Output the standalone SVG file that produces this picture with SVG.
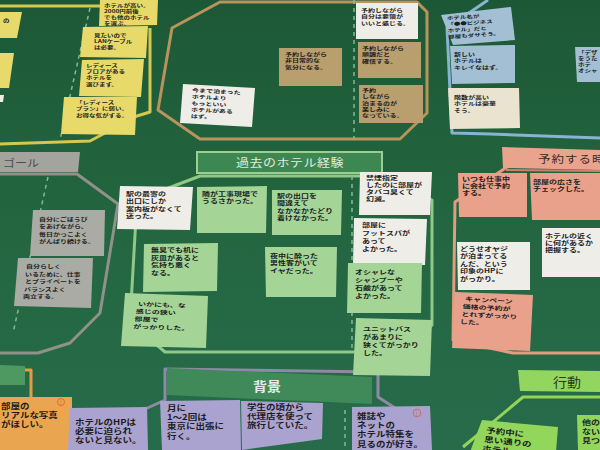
<svg xmlns="http://www.w3.org/2000/svg" width="600" height="450" viewBox="0 0 600 450">
<defs>
<linearGradient id="bgG" x1="0" y1="0" x2="0" y2="1">
<stop offset="0" stop-color="#1d5836"/>
<stop offset="0.5" stop-color="#236640"/>
<stop offset="1" stop-color="#286b4b"/>
</linearGradient>
<style>
.n{font-family:"Noto Sans CJK JP","Noto Sans",sans-serif;font-weight:bold;fill:#1c1c1c}
.s65{font-size:6.5px}.s7{font-size:7px}.s8{font-size:8px}.s95{font-size:9.5px}
.y{fill:#e7d96a}.tan{fill:#b99e6e}.wh{fill:#eeede8}.bl{fill:#a2bfd4}.cr{fill:#e9e3d0}
.gr{fill:#a9aba4}.lg{fill:#a5d596}.sa{fill:#eaa18b}.pu{fill:#aaa3d0}.or{fill:#eaa551}.bgn{fill:#93d65c}
.ol{fill:none;stroke-width:3;stroke-linejoin:round}
.dash{fill:none;stroke:#86b894;stroke-width:1.5;stroke-dasharray:4 4}
.h{font-family:"Noto Sans CJK JP","Noto Sans",sans-serif}
</style>
</defs>
<rect width="600" height="450" fill="url(#bgG)"/>

<g id="connectors">
<polyline class="ol" stroke="#d6c84e" points="0,6 100,6"/>
<polyline class="ol" stroke="#d6c84e" points="150,28 150,112 137,116 90,141 0,144"/>
<line class="dash" x1="90" y1="8" x2="60" y2="140"/>
<polygon class="ol" stroke="#b8935c" points="220,2 417,2 427,12 427,113 400,139 200,139 158,110 172,28"/>
<line class="dash" x1="354" y1="0" x2="354" y2="139"/>
<polyline class="ol" stroke="#88b4d2" points="488,0 447,28 452,133 490,134 600,138"/>
<polyline class="ol" stroke="#909189" points="0,174 77,174 118,204 100,313 70,343 38,353 0,353"/>
<line class="dash" x1="48" y1="177" x2="13" y2="333"/>
<polygon class="ol" stroke="#90c887" points="200,176 380,176 432,200 432,325 400,352 165,352 130,322 137,200"/>
<line class="dash" x1="352" y1="176" x2="352" y2="352"/>
<polyline class="ol" stroke="#e39b82" points="507,167 455,202 453,340 513,353 600,353"/>
<polyline class="ol" stroke="#8e8aa6" points="143,410 165,400 165,369 378,372 378,397 395,408"/>
<line class="dash" x1="345" y1="410" x2="345" y2="448"/>
<polyline class="ol" stroke="#92d456" points="600,397 523,397 463,447"/>
<polyline class="ol" stroke="#e39c42" points="25,370 31,370 31,398"/>
</g>

<g id="label-goal">
<polygon points="0,152 80,152 78,172 0,172" fill="#a3a49e"/>
<text class="h" transform="translate(3,167) scale(1,.85)" font-size="12" fill="#4d4d4a">ゴール</text>
</g>
<g id="label-past">
<rect x="197" y="152" width="185" height="21" fill="#3d8753" stroke="#9ccf8f" stroke-width="2"/>
<text class="h" transform="translate(290,167) scale(1,.85)" font-size="13" fill="#e4ecdf" text-anchor="middle" letter-spacing="0.5">過去のホテル経験</text>
</g>
<g id="label-reserve">
<polygon points="502,147 600,150 600,170 503,168" fill="#eaa38d"/>
<line x1="506" y1="170" x2="600" y2="171" stroke="#c9826e" stroke-width="2"/>
<text class="h" transform="translate(538,163) scale(1,.85)" font-size="12.5" fill="#3a2a25" letter-spacing="1">予約する時</text>
</g>
<g id="label-background">
<polygon points="167,368 372,377 372,404 167,395" fill="#3f8a58"/>
<text class="h" transform="translate(253,391) scale(1,.9)" font-size="14" fill="#e8ecef" font-weight="bold">背景</text>
</g>
<g id="label-action">
<polygon points="518,370 600,371 600,392 520,391" fill="#93d65f"/>
<text class="h" transform="translate(553,387) scale(1,.9)" font-size="14" fill="#2a3a20">行動</text>
</g>
<g id="label-green-left">
<polygon points="0,365 25,366 25,385 0,385" fill="#4e9862"/>
</g>

<!-- yellow -->
<g id="yA"><polygon class="y" points="100,0 158,0 157,25 99,26"/>
<text class="n s65" transform="translate(104,7) scale(1,.72)"><tspan x="0">ホテルが高い。</tspan><tspan x="0" dy="8.3">2000円前後</tspan><tspan x="0" dy="8.3">でも他のホテル</tspan><tspan x="0" dy="8.3">を選ぶ。</tspan></text></g>
<g id="yB"><polygon class="y" points="83,27 148,26 146,58 80,57"/>
<text class="n s65" transform="translate(94,37) scale(1,.72)"><tspan x="0">見たいので</tspan><tspan x="0" dy="8.6">LANケーブル</tspan><tspan x="0" dy="8.6">は必要。</tspan></text></g>
<g id="yC"><polygon class="y" points="82,60 144,59 141,97 79,96"/>
<text class="n s65" transform="translate(86,67) scale(1,.72)"><tspan x="0">レディース</tspan><tspan x="0" dy="8.6">フロアがある</tspan><tspan x="0" dy="8.6">ホテルを</tspan><tspan x="0" dy="8.6">選びます。</tspan></text></g>
<g id="yD"><polygon class="y" points="64,97 137,97 135,135 61,134"/>
<text class="n s65" transform="translate(76,104) scale(1,.72)"><tspan x="0">「レディース</tspan><tspan x="0" dy="9">プラン」に弱い。</tspan><tspan x="0" dy="9">お得な気がする。</tspan></text></g>
<g id="yL1"><polygon class="y" points="0,12 22,12 17,38 0,38"/>
<text class="n s65" transform="translate(3,22) scale(1,.72)">の</text></g>
<g id="yL2"><polygon class="y" points="0,53 14,53 9,88 0,88"/></g>
<g id="wL"><polygon class="wh" points="0,95 4,95 3,102 0,102"/></g>

<!-- tan -->
<g id="w1"><polygon class="wh" points="183,84 255,88 252,127 180,123"/>
<text class="n s7" transform="translate(192,92) rotate(3) scale(1,.72)"><tspan x="0">今まで泊まった</tspan><tspan x="0" dy="9">ホテルより</tspan><tspan x="0" dy="9">もっといい</tspan><tspan x="0" dy="9">ホテルがある</tspan><tspan x="0" dy="9">はず。</tspan></text></g>
<g id="t1"><polygon class="tan" points="279,48 342,48 342,86 279,86"/>
<text class="n s7" transform="translate(285,56) scale(1,.72)"><tspan x="0">予約しながら</tspan><tspan x="0" dy="9">非日常的な</tspan><tspan x="0" dy="9">気分になる。</tspan></text></g>
<g id="w2"><polygon class="wh" points="356,3 418,3 418,39 356,39"/>
<text class="n s7" transform="translate(361,12) scale(1,.72)"><tspan x="0">予約しながら</tspan><tspan x="0" dy="9">自分は要領が</tspan><tspan x="0" dy="9">いいと感じる。</tspan></text></g>
<g id="t2"><polygon class="tan" points="358,42 421,42 421,78 358,78"/>
<text class="n s7" transform="translate(362,50) scale(1,.72)"><tspan x="0">予約しながら</tspan><tspan x="0" dy="9">順調だと</tspan><tspan x="0" dy="9">確信する。</tspan></text></g>
<g id="t3"><polygon class="tan" points="359,85 423,85 423,123 359,123"/>
<text class="n s7" transform="translate(362,92) scale(1,.72)"><tspan x="0">予約</tspan><tspan x="0" dy="8.8">しながら</tspan><tspan x="0" dy="8.8">泊まるのが</tspan><tspan x="0" dy="8.8">楽しみに</tspan><tspan x="0" dy="8.8">なっている。</tspan></text></g>

<!-- blue -->
<g id="b1"><polygon class="bl" points="441,15 511,7 515,40 453,45"/>
<text class="n s65" transform="translate(447,20) rotate(-4) scale(1,.72)"><tspan x="0">ホテル名が</tspan><tspan x="0" dy="8.7">「●●ビジネス</tspan><tspan x="0" dy="8.7">ホテル」だと</tspan><tspan x="0" dy="8.7">部屋もダサそう。</tspan></text></g>
<g id="b2"><polygon class="bl" points="450,46 515,45 515,83 452,84"/>
<text class="n s7" transform="translate(454,56) scale(1,.72)"><tspan x="0">新しい</tspan><tspan x="0" dy="9">ホテルは</tspan><tspan x="0" dy="9">キレイなはず。</tspan></text></g>
<g id="c1"><polygon class="cr" points="448,88 519,88 520,128 450,129"/>
<text class="n s7" transform="translate(454,99) scale(1,.72)"><tspan x="0">階数が高い</tspan><tspan x="0" dy="9">ホテルは豪華</tspan><tspan x="0" dy="9">そう。</tspan></text></g>
<g id="b3"><polygon class="bl" points="575,47 600,47 600,82 577,82"/>
<text class="n s65" transform="translate(578,54) scale(1,.72)"><tspan x="0">「デザ</tspan><tspan x="0" dy="8.3">をうた</tspan><tspan x="0" dy="8.3">ホテ</tspan><tspan x="0" dy="8.3">オシャ</tspan></text></g>

<!-- gray -->
<g id="g1"><polygon class="gr" points="33,210 105,210 104,256 30,256"/>
<text class="n s7" transform="translate(39,221) scale(1,.72)"><tspan x="0">自分にごほうび</tspan><tspan x="0" dy="10.4">をあげながら、</tspan><tspan x="0" dy="10.4">毎日かっこよく</tspan><tspan x="0" dy="10.4">がんばり続ける。</tspan></text></g>
<g id="g2"><polygon class="gr" points="18,258 93,258 91,308 14,306"/>
<text class="n s7" transform="translate(25,268) scale(1,.72)"><tspan x="1">自分らしく</tspan><tspan x="0" dy="10.5">いるために、仕事</tspan><tspan x="0" dy="10.5">とプライベートを</tspan><tspan x="-1" dy="10.5">バランスよく</tspan><tspan x="-2" dy="10.5">両立する。</tspan></text></g>

<!-- light green -->
<g id="lw1"><polygon class="wh" points="120,186 193,187 190,230 117,229"/>
<text class="n s8" transform="translate(126,196) scale(1,.72)"><tspan x="0">駅の最寄の</tspan><tspan x="0" dy="10.2">出口にしか</tspan><tspan x="0" dy="10.2">案内板がなくて</tspan><tspan x="0" dy="10.2">迷った。</tspan></text></g>
<g id="lg1"><polygon class="lg" points="197,187 267,186 266,233 197,233"/>
<text class="n s8" transform="translate(202,196) scale(1,.72)"><tspan x="0">隣が工事現場で</tspan><tspan x="0" dy="10.2">うるさかった。</tspan></text></g>
<g id="lg2"><polygon class="lg" points="272,190 342,190 341,235 272,235"/>
<text class="n s8" transform="translate(277,198) scale(1,.72)"><tspan x="0">駅の出口を</tspan><tspan x="0" dy="10.2">間違えて</tspan><tspan x="0" dy="10.2">なかなかたどり</tspan><tspan x="0" dy="10.2">着けなかった。</tspan></text></g>
<g id="lw2"><polygon class="wh" points="360,172 432,172 430,215 359,215"/>
<text class="n s8" transform="translate(366,180) scale(1,.72)"><tspan x="0">禁煙指定</tspan><tspan x="0" dy="9.9">したのに部屋が</tspan><tspan x="0" dy="9.9">タバコ臭くて</tspan><tspan x="0" dy="9.9">幻滅。</tspan></text></g>
<g id="lw3"><polygon class="wh" points="354,218 427,219 425,265 353,264"/>
<text class="n s8" transform="translate(362,227) scale(1,.72)"><tspan x="0">部屋に</tspan><tspan x="0" dy="10.9">フットスパが</tspan><tspan x="0" dy="10.9">あって</tspan><tspan x="0" dy="10.9">よかった。</tspan></text></g>
<g id="lg3"><polygon class="lg" points="144,244 218,243 217,291 143,292"/>
<text class="n s8" transform="translate(151,252) scale(1,.72)"><tspan x="0">無臭でも机に</tspan><tspan x="0" dy="10.6">灰皿があると</tspan><tspan x="0" dy="10.6">気持ち悪く</tspan><tspan x="0" dy="10.6">なる。</tspan></text></g>
<g id="lg4"><polygon class="lg" points="265,247 337,247 336,297 266,297"/>
<text class="n s8" transform="translate(270,258) scale(1,.72)"><tspan x="0">夜中に酔った</tspan><tspan x="0" dy="10.2">男性客がいて</tspan><tspan x="0" dy="10.2">イヤだった。</tspan></text></g>
<g id="lg5"><polygon class="lg" points="348,263 422,263 421,313 347,313"/>
<text class="n s8" transform="translate(355,274) scale(1,.72)"><tspan x="0">オシャレな</tspan><tspan x="0" dy="10.9">シャンプーや</tspan><tspan x="0" dy="10.9">石鹸があって</tspan><tspan x="0" dy="10.9">よかった。</tspan></text></g>
<g id="lg6"><polygon class="lg" points="125,293 208,296 206,348 121,346"/>
<text class="n s8" transform="translate(136,306) rotate(2) scale(1,.72)"><tspan x="2">いかにも、な</tspan><tspan x="0" dy="10.5">感じの狭い</tspan><tspan x="-1" dy="10.5">部屋で</tspan><tspan x="-2" dy="10.5">がっかりした。</tspan></text></g>
<g id="lg7"><polygon class="lg" points="356,318 432,320 430,376 353,375"/>
<text class="n s8" transform="translate(363,331) scale(1,.72)"><tspan x="0">ユニットバス</tspan><tspan x="0" dy="10.9">があまりに</tspan><tspan x="0" dy="10.9">狭くてがっかり</tspan><tspan x="0" dy="10.9">した。</tspan></text></g>

<!-- salmon -->
<g id="s1"><polygon class="sa" points="458,173 527,173 527,217 459,217"/>
<text class="n s8" transform="translate(462,181) scale(1,.72)"><tspan x="0">いつも仕事中</tspan><tspan x="0" dy="9.7">に会社で予約</tspan><tspan x="0" dy="9.7">する。</tspan></text></g>
<g id="s2"><polygon class="sa" points="530,173 600,173 600,220 532,220"/>
<text class="n s8" transform="translate(533,184) scale(1,.72)"><tspan x="0">部屋の広さを</tspan><tspan x="0" dy="9.7">チェックした。</tspan></text></g>
<g id="sw1"><polygon class="wh" points="542,228 600,228 600,277 542,277"/>
<text class="n s8" transform="translate(545,238) scale(1,.72)"><tspan x="0">ホテルの近く</tspan><tspan x="0" dy="9.9">に何があるか</tspan><tspan x="0" dy="9.9">把握する。</tspan></text></g>
<g id="sw2"><polygon class="wh" points="457,242 530,242 530,290 458,290"/>
<text class="n s8" transform="translate(460,251) scale(1,.72)"><tspan x="0">どうせオヤジ</tspan><tspan x="0" dy="10.4">が泊まってる</tspan><tspan x="0" dy="10.4">んだ、という</tspan><tspan x="0" dy="10.4">印象のHPに</tspan><tspan x="0" dy="10.4">がっかり。</tspan></text></g>
<g id="s3"><polygon class="sa" points="455,292 533,295 530,351 452,348"/>
<text class="n s8" transform="translate(463,301) rotate(3) scale(1,.72)"><tspan x="2">キャンペーン</tspan><tspan x="0" dy="10.6">価格の予約が</tspan><tspan x="-1" dy="10.6">とれずがっかり</tspan><tspan x="-2" dy="10.6">した。</tspan></text></g>

<!-- bottom -->
<g id="o1"><polygon class="or" points="0,397 72,397 72,450 0,450"/>
<circle cx="61" cy="402" r="3.5" fill="none" stroke="#d4622a" stroke-width="0.8"/>
<text class="h" x="61" y="404.5" font-size="6" fill="#d4622a" text-anchor="middle">!</text>
<text class="n s95" transform="translate(1,409) scale(1,.8)"><tspan x="0">部屋の</tspan><tspan x="0" dy="11.5">リアルな写真</tspan><tspan x="0" dy="11.5">がほしい。</tspan></text></g>
<g id="p1"><polygon class="pu" points="70,408 147,407 148,450 68,450"/>
<text class="n s95" transform="translate(75,425) scale(1,.8)"><tspan x="0">ホテルのHPは</tspan><tspan x="0" dy="11.5">必要に迫られ</tspan><tspan x="0" dy="11.5">ないと見ない。</tspan></text></g>
<g id="p2"><polygon class="pu" points="160,401 240,400 241,450 162,450"/>
<text class="n s95" transform="translate(167,411) scale(1,.8)"><tspan x="0">月に</tspan><tspan x="0" dy="11.5">1～2回は</tspan><tspan x="0" dy="11.5">東京に出張に</tspan><tspan x="0" dy="11.5">行く。</tspan></text></g>
<g id="p3"><polygon class="pu" points="241,401 323,403 322,439 242,450"/>
<text class="n s95" transform="translate(247,410) scale(1,.8)"><tspan x="0">学生の頃から</tspan><tspan x="0" dy="11.5">代理店を使って</tspan><tspan x="0" dy="11.5">旅行していた。</tspan></text></g>
<g id="p4"><polygon class="pu" points="352,407 430,406 432,450 352,450"/>
<circle cx="417" cy="413" r="3.8" fill="none" stroke="#d8584a" stroke-width="0.8"/>
<text class="h" x="417" y="415.5" font-size="6" fill="#d8584a" text-anchor="middle">!</text>
<text class="n s95" transform="translate(357,419) scale(1,.8)"><tspan x="0">雑誌や</tspan><tspan x="0" dy="11.5">ネットの</tspan><tspan x="0" dy="11.5">ホテル特集を</tspan><tspan x="0" dy="11.5">見るのが好き。</tspan></text></g>
<g id="bg1"><polygon class="bgn" points="482,420 558,427 556,452 470,452"/>
<text class="n s95" transform="translate(486,433) rotate(6) scale(1,.8)"><tspan x="0">予約中に</tspan><tspan x="-1" dy="11.5">思い通りの</tspan><tspan x="-2" dy="11.5">ホテル</tspan></text></g>
<g id="bg2"><polygon class="bgn" points="577,415 600,415 600,450 578,450"/>
<text class="n" font-size="9" transform="translate(582,425) scale(1,.7)"><tspan x="0">他の</tspan><tspan x="0" dy="12.8">ない</tspan><tspan x="0" dy="12.8">見つ</tspan></text></g>
</svg>
